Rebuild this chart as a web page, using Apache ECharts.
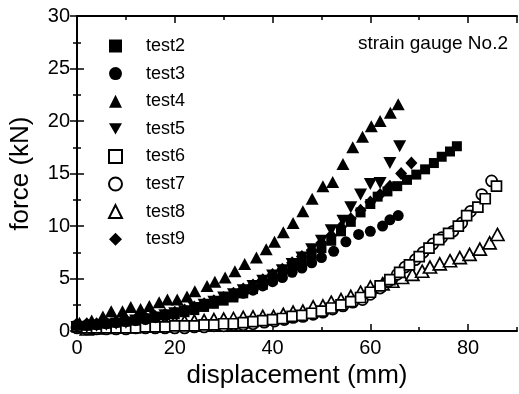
<!DOCTYPE html>
<html>
<head>
<meta charset="utf-8">
<script src="https://cdn.jsdelivr.net/npm/echarts@6/dist/echarts.min.js"></script>
<style>
  html, body { margin: 0; padding: 0; background: #fff; }
  #chart { width: 519px; height: 394px; }
</style>
</head>
<body>
<div id="chart"></div>
<script>
// displacement (mm), force (kN)
var test2 = [[0,0.5],[2,0.5],[4,0.6],[6,0.7],[8,0.8],[10,0.9],[12,1.0],[14,1.2],[16,1.3],[18,1.5],[20,1.6],[22,1.8],[24,2.0],[26,2.3],[28,2.6],[30,2.9],[32,3.2],[34,3.6],[36,4.0],[38,4.4],[40,4.9],[42,5.4],[44,6.0],[46,6.6],[48,7.2],[50,7.9],[52,8.6],[54,9.5],[56,10.4],[58,11.3],[60,12.1],[61.5,12.8],[63.5,13.3],[65.5,13.8],[67.5,14.4],[69.4,14.9],[71.2,15.4],[73,16.0],[74.6,16.6],[76.3,17.1],[77.7,17.6]]
var test3 = [[0,0.6],[2,0.6],[4,0.6],[6,0.7],[8,0.8],[10,0.9],[12,1.0],[14,1.1],[16,1.3],[18,1.5],[20,1.7],[22,1.9],[24,2.1],[26,2.4],[28,2.7],[30,3.0],[32,3.3],[34,3.6],[36,3.9],[38,4.3],[40,4.7],[42,5.1],[44,5.6],[46,6.0],[48,6.5],[50,7.0],[52.5,7.6],[55,8.5],[57.6,9.2],[60,9.5],[62.5,10.0],[64,10.6],[65.7,11.0]]
var test4 = [[0.5,0.8],[3,1.0],[5.3,1.4],[7,1.9],[9.3,1.9],[11,2.3],[13,2.1],[14.8,2.4],[16.8,2.75],[18.5,3.0],[20.5,3.0],[22.5,3.3],[24.1,3.8],[26.6,4.3],[28.2,4.7],[30.3,5.1],[32.3,5.7],[34.3,6.4],[36.7,7.0],[38.7,7.8],[40.4,8.5],[42.2,9.4],[44.2,10.3],[46.2,11.4],[48.1,12.6],[50.3,13.8],[52.3,14.2],[54.4,15.9],[56.4,17.5],[58.4,18.5],[60.2,19.5],[62,20.0],[64.1,20.8],[65.7,21.6]]
var test5 = [[0,0.4],[2,0.4],[4,0.5],[6,0.6],[8,0.7],[10,0.8],[12,1.0],[14,1.1],[16,1.3],[18,1.5],[20,1.7],[22,1.9],[24,2.2],[26,2.5],[28,2.8],[30,3.2],[32,3.5],[34,3.9],[36,4.3],[38,4.8],[40,5.3],[42,5.8],[44,6.4],[46,7.0],[48,7.8],[50,8.6],[52,9.6],[54.4,10.5],[56,11.8],[58,13.0],[60,14.0],[62,14.1],[64,16.0],[66,17.6]]
var test6 = [[0,0.4],[2,0.3],[4,0.3],[6,0.3],[8,0.3],[10,0.3],[12,0.3],[14,0.4],[16,0.4],[18,0.4],[20,0.5],[22,0.5],[24,0.5],[26,0.6],[28,0.6],[30,0.7],[32,0.7],[34,0.8],[36,0.9],[38,1.0],[40,1.1],[42,1.2],[44,1.4],[46,1.5],[48,1.7],[50,1.9],[52,2.2],[54,2.5],[56,2.8],[58,3.2],[60,3.7],[62,4.3],[64,4.9],[66,5.6],[68,6.3],[70,7.1],[72,7.9],[74,8.7],[76,9.3],[78,10.0],[79.7,11.0],[82,11.8],[83.5,12.6],[85.8,13.8]]
var test7 = [[0,0.3],[2,0.2],[4,0.2],[6,0.2],[8,0.2],[10,0.2],[12,0.3],[14,0.3],[16,0.3],[18,0.3],[20,0.3],[22,0.3],[24,0.4],[26,0.4],[28,0.5],[30,0.5],[32,0.6],[34,0.6],[36,0.7],[38.3,0.85],[40.4,0.95],[42.4,1.1],[44.2,1.3],[46.2,1.4],[48.3,1.6],[50.3,1.8],[52.3,2.1],[54.4,2.4],[56.4,2.75],[58.4,3.0],[60,3.5],[62,4.1],[63.7,4.75],[65.5,5.4],[67.1,6.1],[69.2,6.8],[70.8,7.5],[72.8,8.3],[74.6,8.9],[76.9,9.5],[78.7,10.3],[80.5,11.4],[82.8,13.0],[84.8,14.3]]
var test8 = [[2,0.2],[4,0.3],[6,0.35],[8,0.4],[10,0.45],[12,0.5],[14,0.6],[16,0.7],[18,0.8],[20,0.85],[22,0.9],[24,0.95],[26,1.0],[28,1.1],[30,1.15],[32,1.2],[34,1.3],[36,1.35],[38,1.4],[40.2,1.4],[42.2,1.6],[44.2,1.8],[46.2,1.9],[48.3,2.3],[50.3,2.4],[52,2.75],[54,3.0],[56,3.3],[58,3.7],[60,4.2],[62.5,4.5],[64.5,4.75],[66.5,5.1],[68.6,5.4],[70.6,5.7],[72.2,6.1],[74.2,6.4],[76.3,6.7],[78.3,7.0],[80.3,7.3],[82.4,7.8],[84.4,8.4],[86,9.2]]
var test9 = [[0,0.7],[2,0.7],[4,0.7],[6,0.8],[8,0.9],[10,1.0],[12,1.1],[14,1.3],[16,1.4],[18,1.6],[20,1.8],[22,2.0],[24,2.3],[26,2.6],[28,2.9],[30,3.2],[32,3.6],[34,4.0],[36,4.4],[38,4.9],[40,5.4],[42,5.9],[44,6.5],[46,7.1],[48,7.7],[50,8.4],[52,9.1],[54,9.9],[56,10.7],[58,11.5],[60,12.3],[62,13.0],[64,13.8],[66.3,15.0],[68.4,16.0]]

var font = 'Liberation Sans, Arial, sans-serif'
var downTriangle = 'path://M0,0L2,0L1,1.732Z'

function mk(name, data, symbol, size, open) {
  return {
    name: name,
    type: 'scatter',
    data: data,
    symbol: symbol,
    symbolSize: size,
    clip: false,
    itemStyle: open
      ? { color: '#fff', borderColor: '#000', borderWidth: 1.7, opacity: 1 }
      : { color: '#000', borderWidth: 0, opacity: 1 }
  }
}

var chart = echarts.init(document.getElementById('chart'))

var axisLine = { show: true, lineStyle: { color: '#000', width: 2 } }

chart.setOption({
  animation: false,
  backgroundColor: '#fff',
  textStyle: { fontFamily: font },
  grid: { left: 74, right: 2, top: 16, bottom: 62 },
  title: {
    text: 'strain gauge No.2',
    right: 6,
    top: 29,
    textStyle: { fontFamily: font, fontSize: 19, fontWeight: 'normal', color: '#000' }
  },
  legend: {
    orient: 'vertical',
    left: 108,
    top: 37,
    padding: 0,
    itemWidth: 13,
    itemHeight: 13,
    itemGap: 9.6,
    textStyle: { fontFamily: font, fontSize: 18, color: '#000', lineHeight: 17, padding: [0, 0, 0, 19] },
    data: ['test2', 'test3', 'test4', 'test5', 'test6', 'test7', 'test8', 'test9']
  },
  xAxis: [
    {
      type: 'value', position: 'bottom', min: 0, max: 90, interval: 20,
      name: 'displacement (mm)', nameLocation: 'middle', nameGap: 26,
      nameTextStyle: { fontFamily: font, fontSize: 26, color: '#000' },
      axisLine: axisLine,
      axisTick: { inside: true, length: 7, lineStyle: { color: '#000', width: 1.5 } },
      axisLabel: { fontFamily: font, fontSize: 20, color: '#000', margin: 7, showMaxLabel: false },
      splitLine: { show: false }
    },
    {
      type: 'value', position: 'bottom', min: 0, max: 90, interval: 10,
      axisLine: { show: false },
      axisTick: { inside: true, length: 4, lineStyle: { color: '#000', width: 1.5 } },
      axisLabel: { show: false },
      splitLine: { show: false }
    },
    {
      type: 'value', position: 'top', min: 0, max: 90, interval: 20,
      axisLine: axisLine,
      axisTick: { inside: true, length: 7, lineStyle: { color: '#000', width: 1.5 } },
      axisLabel: { show: false },
      splitLine: { show: false }
    },
    {
      type: 'value', position: 'top', min: 0, max: 90, interval: 10,
      axisLine: { show: false },
      axisTick: { inside: true, length: 4, lineStyle: { color: '#000', width: 1.5 } },
      axisLabel: { show: false },
      splitLine: { show: false }
    }
  ],
  yAxis: [
    {
      type: 'value', position: 'left', min: 0, max: 30, interval: 5,
      name: 'force (kN)', nameLocation: 'middle', nameGap: 43,
      nameTextStyle: { fontFamily: font, fontSize: 26, color: '#000' },
      axisLine: axisLine,
      axisTick: { inside: true, length: 7, lineStyle: { color: '#000', width: 1.5 } },
      minorTick: { show: true, splitNumber: 2, length: 4, lineStyle: { color: '#000', width: 1.5 } },
      axisLabel: { fontFamily: font, fontSize: 20, color: '#000', margin: 7 },
      splitLine: { show: false }
    },
    {
      type: 'value', position: 'right', min: 0, max: 30, interval: 5,
      axisLine: axisLine,
      axisTick: { inside: true, length: 7, lineStyle: { color: '#000', width: 1.5 } },
      minorTick: { show: true, splitNumber: 2, length: 4, lineStyle: { color: '#000', width: 1.5 } },
      axisLabel: { show: false },
      splitLine: { show: false }
    }
  ],
  series: [
    mk('test8', test8, 'triangle', [13, 12], true),
    mk('test7', test7, 'circle', 11, true),
    mk('test6', test6, 'rect', 10, true),
    mk('test2', test2, 'rect', 10, false),
    mk('test3', test3, 'circle', 11, false),
    mk('test9', test9, 'diamond', [12, 13], false),
    mk('test5', test5, downTriangle, [13, 12], false),
    mk('test4', test4, 'triangle', [13, 12], false)
  ]
})
</script>
</body>
</html>
